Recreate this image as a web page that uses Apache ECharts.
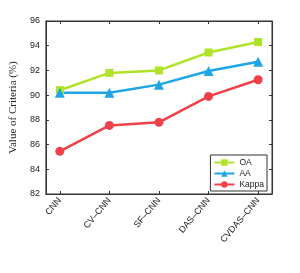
<!DOCTYPE html>
<html><head><meta charset="utf-8">
<script src="https://cdn.jsdelivr.net/npm/echarts@6/dist/echarts.min.js"></script>
<style>html,body{margin:0;padding:0;background:#fff}#c{width:300px;height:273px}</style>
</head><body><div id="c"></div>
<script>
const categories = ['CNN', 'CV\u2013CNN', 'SF\u2013CNN', 'DAS\u2013CNN', 'CVDAS\u2013CNN'];
const oa = [90.4, 91.8, 92.0, 93.45, 94.3];
const aa = [90.2, 90.2, 90.85, 91.95, 92.7];
const kappa = [85.45, 87.55, 87.8, 89.9, 91.25];
const yTicks = [82, 84, 86, 88, 90, 92, 94, 96];

const idx = categories.map((c, i) => i);
const pts = arr => arr.map((v, i) => [i, v]);
const chart = echarts.init(document.getElementById('c'), null, {renderer: 'canvas'});
const axisCol = '#333';
const lab = {color: '#222', fontSize: 9, fontFamily: 'Liberation Sans, Arial, sans-serif'};
chart.setOption({
  animation: false,
  backgroundColor: '#fff',
  grid: {left: 40, right: 28, top: 21, bottom: 79, show: true, borderColor: axisCol, borderWidth: 1},
  xAxis: [{
    type: 'value', min: -0.28, max: 4.28,
    splitLine: {show: false},
    axisLine: {show: true, onZero: false, lineStyle: {color: axisCol}},
    axisTick: {show: true, inside: true, length: 3, lineStyle: {color: axisCol}, customValues: idx},
    axisLabel: Object.assign({rotate: 50, margin: 5, customValues: idx,
      formatter: v => categories[Math.round(v)] || ''}, lab)
  }, {
    type: 'value', position: 'top', min: -0.28, max: 4.28,
    splitLine: {show: false}, axisLabel: {show: false},
    axisLine: {show: true, onZero: false, lineStyle: {color: axisCol}},
    axisTick: {show: true, inside: true, length: 3, lineStyle: {color: axisCol}, customValues: idx}
  }],
  yAxis: [{
    type: 'value', min: yTicks[0], max: yTicks[yTicks.length - 1], interval: 2,
    name: 'Value of Criteria (%)', nameLocation: 'middle', nameGap: 20,
    nameTextStyle: {fontFamily: 'Liberation Serif, Times New Roman, serif', fontSize: 11, color: '#222'},
    splitLine: {show: false},
    axisLine: {show: true, onZero: false, lineStyle: {color: axisCol}},
    axisTick: {show: true, inside: true, length: 3, lineStyle: {color: axisCol}},
    axisLabel: Object.assign({margin: 6}, lab)
  }, {
    type: 'value', position: 'right', min: yTicks[0], max: yTicks[yTicks.length - 1], interval: 2,
    splitLine: {show: false}, axisLabel: {show: false},
    axisLine: {show: true, onZero: false, lineStyle: {color: axisCol}},
    axisTick: {show: true, inside: true, length: 3, lineStyle: {color: axisCol}}
  }],
  legend: {
    right: 33, top: 155, orient: 'vertical',
    backgroundColor: '#fff', borderColor: axisCol, borderWidth: 1,
    padding: [3, 3, 2, 3], itemGap: 2, itemWidth: 20, itemHeight: 8,
    textStyle: {fontSize: 8.5, color: '#222', fontFamily: 'Liberation Sans, Arial, sans-serif'},
    data: ['OA', 'AA', 'Kappa']
  },
  series: [
    {name: 'OA', type: 'line', data: pts(oa), symbol: 'rect', symbolSize: 8,
     lineStyle: {width: 2.5, color: '#b0e22a'}, itemStyle: {color: '#b0e22a'}},
    {name: 'AA', type: 'line', data: pts(aa), symbol: 'triangle', symbolSize: 10,
     lineStyle: {width: 2.5, color: '#1ea5e6'}, itemStyle: {color: '#1ea5e6'}},
    {name: 'Kappa', type: 'line', data: pts(kappa), symbol: 'circle', symbolSize: 9,
     lineStyle: {width: 2.5, color: '#f0404a'}, itemStyle: {color: '#f0404a'}}
  ]
});
</script></body></html>
